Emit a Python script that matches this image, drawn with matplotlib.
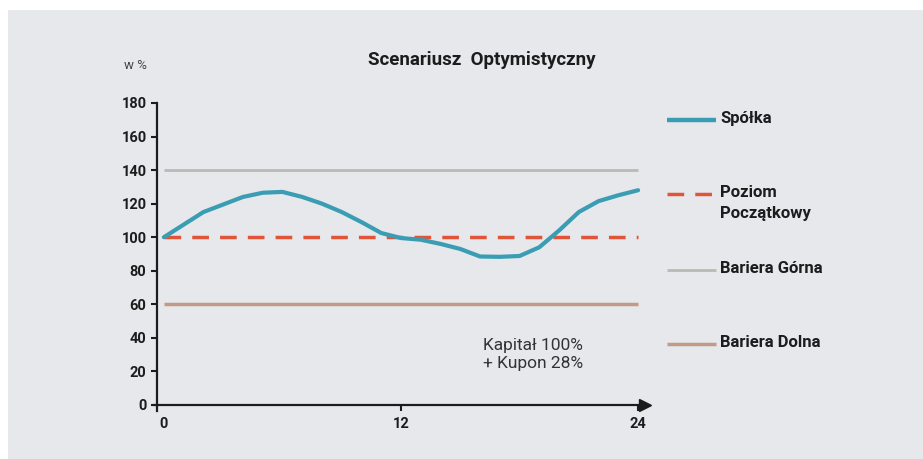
import numpy as np
import matplotlib.pyplot as plt
from matplotlib.patches import Rectangle
from matplotlib.lines import Line2D

# data
months = list(range(25))
spolka = [100, 107.5, 115, 119.5, 124, 126.5, 127, 124, 120, 115, 109, 102.5,
          99.5, 98.5, 96, 93, 88.5, 88.3, 88.8, 94, 104, 115, 121.5, 125, 128]
poziom_poczatkowy = 100
bariera_gorna = 140
bariera_dolna = 60
x_ticks = [0, 12, 24]
y_ticks = [0, 20, 40, 60, 80, 100, 120, 140, 160, 180]

teal = '#3a9db3'
red = '#e0553a'
gray = '#b9bab4'
brown = '#c39a85'
dark = '#1c1c1c'

plt.rcParams['font.family'] = ['Roboto', 'DejaVu Sans']

W, H = 923, 459
fig = plt.figure(figsize=(W / 100, H / 100), dpi=100, facecolor='white')

# gray panel
fig.patches.append(Rectangle((8 / W, 0), 1, 1 - 10 / H, transform=fig.transFigure,
                             facecolor='#e6e8ec', edgecolor='none', zorder=-10))

# axes
ax = fig.add_axes([157 / W, (H - 411) / H, (645 - 157) / W, (411 - 103) / H])
ax.set_facecolor('none')
ax.set_xlim(-0.35, 24.35)
ax.set_ylim(-3.6, 180)

x0, x1 = months[0], months[-1]
ax.plot([x0, x1], [bariera_gorna] * 2, color=gray, lw=2, solid_capstyle='butt')
ax.plot([x0, x1], [bariera_dolna] * 2, color=brown, lw=2.5, solid_capstyle='butt')
ax.plot([x0, x1], [poziom_poczatkowy] * 2, color=red, lw=2.5, dashes=(4.8, 3.2))
ax.plot(months, spolka, color=teal, lw=3, solid_capstyle='round', zorder=3)

# spines
for s in ['top', 'right']:
    ax.spines[s].set_visible(False)
ax.spines['left'].set_bounds(-3.6, 180)
ax.spines['bottom'].set_position(('data', 0))
ax.spines['bottom'].set_bounds(-0.5, 24.0)
for s in ['left', 'bottom']:
    ax.spines[s].set_linewidth(1.6)
    ax.spines[s].set_color(dark)
# arrow at end of x axis
ax.plot([24.35], [0], marker='>', color=dark, markersize=8, clip_on=False)

ax.set_xticks(x_ticks)
ax.set_yticks(y_ticks)
ax.tick_params(axis='both', length=4, width=1.5, color=dark, labelcolor=dark,
               labelsize=10.5)
ax.tick_params(axis='x', pad=5)
ax.xaxis.get_major_ticks()[0].tick1line.set_visible(False)
for lab in ax.get_xticklabels() + ax.get_yticklabels():
    lab.set_fontweight('bold')

ax.text(16.15, 30, 'Kapitał 100%\n+ Kupon 28%', fontsize=12.5, color='#333333',
        ha='left', va='center', linespacing=1.3)

# titles
fig.text(482 / W, 1 - 60 / H, 'Scenariusz  Optymistyczny', fontsize=13.5,
         fontweight='bold', color=dark, ha='center', va='center')
fig.text(136 / W, 1 - 66 / H, 'w %', fontsize=9.5, color='#444444',
         ha='center', va='center')

# legend
entries = [
    ('Spółka', 120, dict(color=teal, lw=3.2)),
    ('Poziom\nPoczątkowy', 194, dict(color=red, lw=2.5, dashes=(4.8, 3.2))),
    ('Bariera Górna', 270, dict(color=gray, lw=2)),
    ('Bariera Dolna', 344, dict(color=brown, lw=2.5)),
]
for label, ypx, style in entries:
    yf = 1 - ypx / H
    fig.add_artist(Line2D([667 / W, 716 / W], [yf, yf], transform=fig.transFigure,
                          solid_capstyle='butt', **style))
    fig.text(720 / W, 1 - (ypx - 9) / H, label, fontsize=12, fontweight='bold',
             color=dark, ha='left', va='top', linespacing=1.5)

fig.savefig('out.png', dpi=100, facecolor='white')
plt.close()
